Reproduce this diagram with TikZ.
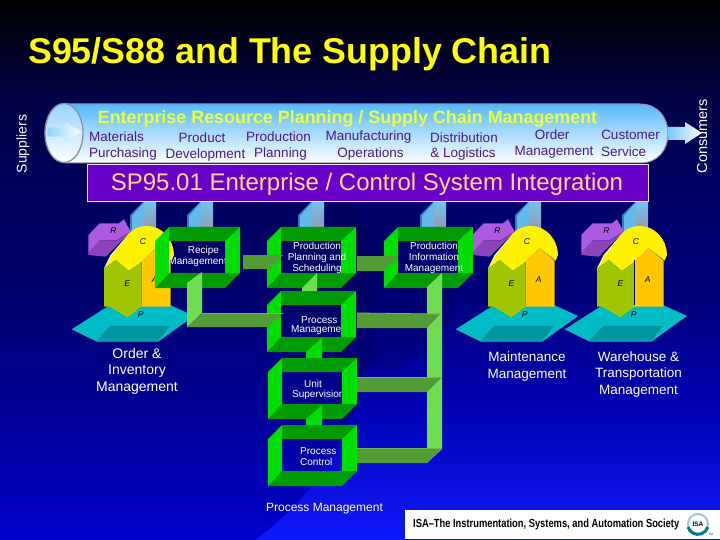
\documentclass[tikz,border=0pt]{standalone}
\usepackage{fontspec}
\setmainfont{Liberation Sans}
\usetikzlibrary{calc}
\definecolor{gbright}{RGB}{0,222,0}
\definecolor{gdark}{RGB}{0,155,0}
\definecolor{barlight}{RGB}{110,222,80}
\definecolor{barface}{RGB}{82,155,55}
\definecolor{bartop}{RGB}{105,190,80}
\definecolor{lblpurple}{RGB}{75,25,135}
\definecolor{ttlyellow}{RGB}{255,255,0}
\definecolor{erpyellow}{RGB}{232,255,60}
\definecolor{barviolet}{RGB}{105,0,200}
\definecolor{sptext}{RGB}{255,215,130}
\definecolor{pipeedge}{RGB}{140,145,165}
\definecolor{bgA}{RGB}{15,25,250}
\definecolor{bgB}{RGB}{0,0,175}
\definecolor{bgC}{RGB}{0,0,125}
\definecolor{bgD}{RGB}{0,0,105}
\definecolor{bgE}{RGB}{2,2,70}
\definecolor{bgF}{RGB}{0,0,0}
\definecolor{dsA}{RGB}{0,0,205}
\definecolor{dsB}{RGB}{0,0,145}
\definecolor{dsC}{RGB}{0,0,112}
\definecolor{dsD}{RGB}{0,0,95}
\pgfdeclareverticalshading{bgright}{100bp}{
 color(0bp)=(bgA); color(25bp)=(bgA);
 color(37.96bp)=(bgB);
 color(47.22bp)=(bgC);
 color(56.48bp)=(bgD);
 color(65.74bp)=(bgE);
 color(75bp)=(bgF); color(100bp)=(bgF)}
\pgfdeclareverticalshading{bgdisc}{100bp}{
 color(0bp)=(dsA); color(25bp)=(dsA);
 color(37.96bp)=(dsB);
 color(47.22bp)=(dsC);
 color(56.48bp)=(dsD);
 color(65.74bp)=(bgE);
 color(75bp)=(bgF); color(100bp)=(bgF)}
\tikzset{
 lbl/.style={text=lblpurple,inner sep=0pt,yshift=-1pt,font=\fontsize{13.5}{15}\selectfont},
 boxtxt/.style={text=white,inner sep=0pt,yshift=-1pt,align=center,font=\fontsize{10}{11}\selectfont},
 wlbl/.style={text=white,inner sep=0pt,yshift=-1pt,align=center,font=\fontsize{14}{16.5}\selectfont},
 barv/.style={fill=barlight},
 barh/.style={fill=barface},
 hletter/.style={text=black,inner sep=0pt,font=\fontsize{8.5}{9}\selectfont\itshape}
}
% pillar: left x
\newcommand{\pillarpic}[1]{%
 \fill[fill={rgb,255:red,55;green,125;blue,185}] (#1,215)--(#1+13,202)--(#1+15,202)--(#1+4,216)--(#1+4,232)--(#1,232)--cycle;
 \fill[fill={rgb,255:red,100;green,185;blue,235}] (#1+2,216)--(#1+14,202)--(#1+15,232)--(#1+2,232)--cycle;
 \shade[top color={rgb,255:red,115;green,195;blue,240},bottom color={rgb,255:red,150;green,150;blue,165}] (#1+14,202) rectangle (#1+26,232);
}
% house: name, left x
\newcommand{\housepic}[2]{%
 \begin{scope}[shift={(#2,200)},x=.3333pt,y=-.3333pt]
  \fill[fill={rgb,255:red,172;green,90;blue,225}] (-47,105)--(-13,70)--(45,70)--(60,58)--(80,95)--(35,122)--(-13,122)--(-47,160)--cycle;
  \fill[fill={rgb,255:red,142;green,68;blue,185}] (-47,165)--(-47,160)--(-13,122)--(37,122)--(80,95)--(5,170)--cycle;
  \fill[fill={rgb,255:red,0;green,188;blue,196}] (-97,388)--(18,315)--(198,315)--(270,348)--(163,425)--(-22,425)--cycle;
  \fill[fill={rgb,255:red,0;green,150;blue,160}] (18,378)--(198,378)--(163,422)--(-22,422)--cycle;
  \fill[fill={rgb,255:red,255;green,255;blue,175}] (0,205)--(20,165)--(75,100)--(35,180)--cycle;
  \fill[yellow] (8,197)--(25,165)--(75,100) .. controls (95,80) and (115,78) .. (130,78) .. controls (175,78) and (210,120) .. (210,165)--(203,182)--(155,145)--(113,185)--(75,213)--(35,180)--cycle;
  \fill[fill={rgb,255:red,160;green,198;blue,0}] (0,205)--(35,180)--(75,213)--(113,185)--(113,320)--(70,352)--(17,320)--(0,320)--cycle;
  \fill[fill={rgb,255:red,255;green,200;blue,0}] (113,185)--(155,145)--(200,182)--(200,320)--(113,320)--cycle;
  \node[hletter] (#1R) at (28,93) {R};
  \node[hletter] (#1C) at (117,125) {C};
  \node[hletter] (#1E) at (70,252) {E};
  \node[hletter] (#1A) at (152,240) {A};
  \node[hletter] (#1P) at (110,345) {P};
 \end{scope}
}
% green frame: name, x, y, width
\newcommand{\framepic}[4]{%
 \begin{scope}[shift={(#2,#3)}]
  \fill[gdark] (14,0)--(#4,0)--({#4-15},14)--(14,14)--cycle;
  \fill[gdark] (0,61)--(14,46)--(#4,46)--({#4-15},61)--cycle;
  \fill[gbright] (0,14)--(14,0)--(14,46)--(0,61)--cycle;
  \fill[gbright] ({#4-15},14)--(#4,0)--(#4,46)--({#4-15},46)--cycle;
  \coordinate (#1) at ({#4/2},30);
 \end{scope}
}
\begin{document}
\begin{tikzpicture}[x=1pt,y=-1pt]
\useasboundingbox (0,0) rectangle (720,540);
% background
\shade[shading=bgright] (0,0) rectangle (720,540);
\begin{scope}
 \clip (85,305) circle[radius=290pt];
 \shade[shading=bgdisc] (0,0) rectangle (720,540);
\end{scope}
\fill[fill={rgb,255:red,0;green,0;blue,90},opacity=.3] (373,290) circle[radius=80pt];
% title
\node[anchor=base west,inner sep=0pt,text=ttlyellow,font=\fontsize{35.8}{38}\selectfont\bfseries] (title) at (28,64) {S95/S88 and The Supply Chain};
\node[rotate=90,text=white,inner sep=0pt,font=\fontsize{14}{15}\selectfont] (suppliers) at (23,144) {Suppliers};
% pillars
\pillarpic{130}\pillarpic{187}\pillarpic{298}\pillarpic{420}\pillarpic{515}\pillarpic{622}
% pipe
\shade[top color={rgb,255:red,85;green,185;blue,250},middle color={rgb,255:red,190;green,232;blue,255},bottom color=white,draw=pipeedge,line width=1pt]
 (64,104) -- (640,104) .. controls (658,104) and (668,118) .. (668,133) .. controls (668,150) and (658,163) .. (640,163) -- (64,163) -- cycle;
\shade[top color={rgb,255:red,150;green,210;blue,250},bottom color=white,draw=pipeedge,line width=1.3pt] (64,133) ellipse[x radius=19pt,y radius=29.5pt];
\shade[left color={rgb,255:red,140;green,210;blue,250},right color=white,draw=white!80!cyan,line width=.6pt]
 (47,127)--(65,127)--(65,122)--(82,132)--(65,142)--(65,137)--(47,137)--cycle;
\shade[left color={rgb,255:red,120;green,200;blue,250},right color=white]
 (668,127)--(685,127)--(685,122)--(702,133)--(685,144)--(685,140)--(668,140)--cycle;
\node[rotate=90,text=white,inner sep=0pt,font=\fontsize{14.5}{15}\selectfont] (consumers) at (702,136) {Consumers};
\node[anchor=base,inner sep=0pt,text=erpyellow,font=\fontsize{17.9}{18}\selectfont\bfseries] (erp) at (347.5,123.5) {Enterprise Resource Planning / Supply Chain Management};
\node[lbl] (l1a) at (116.5,136) {Materials};
\node[lbl] (l1b) at (123,153.5) {Purchasing};
\node[lbl] (l2a) at (202,137) {Product};
\node[lbl] (l2b) at (205.5,154) {Development};
\node[lbl] (l3a) at (278.5,136) {Production};
\node[lbl] (l3b) at (280.5,153.5) {Planning};
\node[lbl] (l4a) at (368.5,136) {Manufacturing};
\node[lbl] (l4b) at (370.5,153.5) {Operations};
\node[lbl] (l5a) at (464,136.5) {Distribution};
\node[lbl] (l5b) at (463,153.5) {\&\ Logistics};
\node[lbl] (l6a) at (552,134) {Order};
\node[lbl] (l6b) at (554,151.5) {Management};
\node[lbl] (l7a) at (630.5,133.5) {Customer};
\node[lbl] (l7b) at (623.5,150.5) {Service};
% SP95 bar
\node[draw={rgb,255:red,235;green,225;blue,245},line width=.7pt,fill=barviolet,minimum width=561pt,minimum height=37pt,inner sep=0pt] (sp) at (367.5,182.5) {};
\node[inner sep=0pt,text=sptext,font=\fontsize{24}{25}\selectfont] (sptxt) at (367,184) {SP95.01 Enterprise / Control System Integration};
% houses
\housepic{ha}{104}
\housepic{hb}{488}
\housepic{hc}{597}
\draw[fill=none,draw={rgb,255:red,0;green,0;blue,110},line width=.7pt] (634.5,260)--(634.5,305);
% texts that the frames partly cover
\node[boxtxt,anchor=center] (recipe1) at (203.5,250) {Recipe};
\node[boxtxt,anchor=east] (recipe2) at (227,261) {Management};
\node[boxtxt,anchor=west] (pm1) at (301,319) {Process};
\node[boxtxt,anchor=west] (pm2) at (291,329.5) {Management};
\node[boxtxt,anchor=west] (us1) at (304,383) {Unit};
\node[boxtxt,anchor=west] (us2) at (292,394) {Supervision};
\node[boxtxt,anchor=west] (pc1) at (300,450) {Process};
\node[boxtxt,anchor=west] (pc2) at (300,461) {Control};
% frames
\framepic{boxRecipe}{155}{227}{85}
\framepic{boxPlan}{267}{227}{89}
\framepic{boxInfo}{384}{227}{89}
\framepic{boxProc}{267}{291}{89}
\framepic{boxUnit}{268}{358}{89}
\framepic{boxCtrl}{268}{425}{89}
% connectors
\fill[barv] (187,283)--(202,272)--(202,313)--(187,327)--cycle;
\fill[barv] (302,288)--(317,273)--(317,291)--(302,291)--cycle;
\fill[gbright] (306,358)--(306,352)--(322,338)--(322,358)--cycle;
\fill[gbright] (306,425)--(306,419)--(322,405)--(322,425)--cycle;
\fill[barv] (427,287)--(442,273)--(442,449)--(427,463)--cycle;
\fill[barh] (243,255)--(283,255)--(270,269)--(243,269)--cycle;
\fill[barh] (357,256)--(398,256)--(384,271)--(357,271)--cycle;
\fill[barh] (187,327)--(202,313)--(283,313)--(267,327)--cycle;
\draw[bartop,line width=.8pt] (202,313)--(283,313);
\fill[barh] (357,313)--(440,314)--(427,328)--(357,328)--cycle;
\draw[bartop,line width=.8pt] (357,313)--(440,314);
\fill[barh] (357,377)--(442,377)--(427,392)--(357,392)--cycle;
\draw[bartop,line width=.8pt] (357,377)--(442,377);
\fill[barh] (357,448)--(442,448)--(427,463)--(357,463)--cycle;
\draw[bartop,line width=.8pt] (357,448)--(442,448);
% texts on top
\node[boxtxt] (plan) at (317,257) {Production\\Planning and\\Scheduling};
\node[boxtxt] (info) at (434,256.5) {Production\\Information\\Management};
\node[wlbl] (order) at (137,370) {Order \&\\Inventory\\Management};
\node[wlbl,font=\fontsize{13.5}{16.5}\selectfont] (maint) at (527,365.5) {Maintenance\\Management};
\node[wlbl,font=\fontsize{13.5}{16.5}\selectfont] (ware) at (638.5,373.5) {Warehouse \&\\Transportation\\Management};
\node[text=white,inner sep=0pt,font=\fontsize{12}{13}\selectfont] (pmgmt) at (324.5,508.5) {Process Management};
% footer
\fill[white] (405,510) rectangle (720,539);
\node[anchor=west,inner sep=0pt,text=black] (isa) at (413,524) {\resizebox{266pt}{8.5pt}{\bfseries ISA–The Instrumentation, Systems, and Automation Society}};
\draw[fill=none,draw={rgb,255:red,165;green,195;blue,210},line width=2pt] (698,524) circle[radius=10pt];
\draw[fill=none,draw={rgb,255:red,0;green,125;blue,140},line width=3pt] (688,527) arc[start angle=197,end angle=343,radius=10.4pt];
\node[inner sep=0pt,text=black,font=\fontsize{6.5}{7}\selectfont\bfseries] (isalogo) at (698,524) {ISA};
\node[inner sep=0pt,text=black,font=\fontsize{2.8}{3}\selectfont] (isatm) at (711,535) {TM};
\end{tikzpicture}
\end{document}
